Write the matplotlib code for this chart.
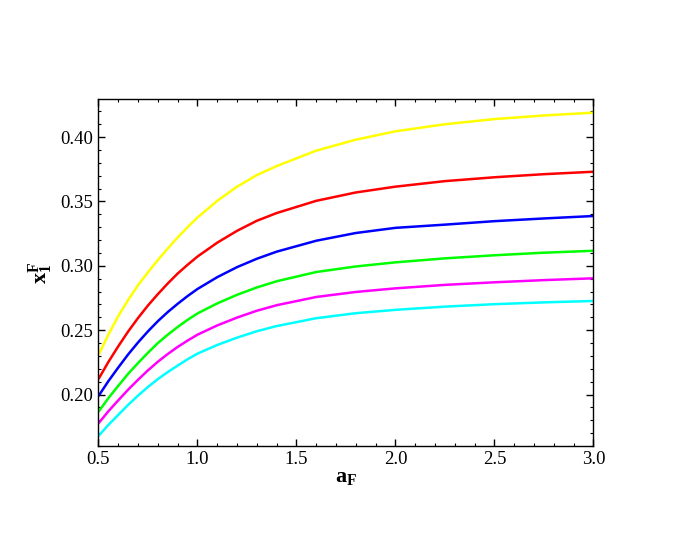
import matplotlib
matplotlib.use("Agg")
import matplotlib.pyplot as plt
from matplotlib.ticker import MultipleLocator, FormatStrFormatter

# values
a_F = [0.5, 0.55, 0.6, 0.65, 0.7, 0.75, 0.8, 0.85, 0.9, 0.95, 1.0, 1.1, 1.2, 1.3,
       1.4, 1.6, 1.8, 2.0, 2.25, 2.5, 2.75, 3.0]

x_yellow = [0.2307, 0.2465, 0.261, 0.2735, 0.285, 0.295, 0.3045, 0.3135, 0.322, 0.330,
            0.3375, 0.3505, 0.3615, 0.3705, 0.3775, 0.3895, 0.398, 0.4045, 0.410,
            0.414, 0.4168, 0.419]
x_red = [0.212, 0.2253, 0.2375, 0.249, 0.2595, 0.2692, 0.278, 0.2863, 0.294, 0.3008,
         0.3072, 0.318, 0.3272, 0.335, 0.341, 0.3505, 0.357, 0.3615, 0.3658, 0.3688,
         0.3712, 0.3731]
x_blue = [0.1988, 0.2104, 0.221, 0.2312, 0.2405, 0.2491, 0.257, 0.2641, 0.2705, 0.2765,
          0.282, 0.2912, 0.299, 0.3055, 0.311, 0.3195, 0.3255, 0.3295, 0.332, 0.3347,
          0.3368, 0.3387]
x_green = [0.1866, 0.1972, 0.2068, 0.2161, 0.2245, 0.2325, 0.240, 0.2465, 0.2525, 0.258,
           0.263, 0.2708, 0.2775, 0.2832, 0.288, 0.2952, 0.2995, 0.3027, 0.3058, 0.3082,
           0.3102, 0.3117]
x_magenta = [0.1776, 0.187, 0.1955, 0.2038, 0.2115, 0.2188, 0.2255, 0.2315, 0.237, 0.2419,
             0.2465, 0.2537, 0.2598, 0.2651, 0.2694, 0.2758, 0.2797, 0.2825, 0.2852,
             0.2872, 0.2889, 0.2903]
x_cyan = [0.1678, 0.1764, 0.1842, 0.192, 0.1992, 0.2059, 0.212, 0.2175, 0.2225, 0.2274,
          0.2318, 0.2385, 0.2442, 0.2492, 0.2532, 0.2593, 0.2632, 0.2658, 0.2683, 0.2702,
          0.2716, 0.2727]

series = [
    (x_yellow, '#ffff00'),
    (x_red, '#ff0000'),
    (x_blue, '#0000ff'),
    (x_green, '#00ff00'),
    (x_magenta, '#ff00ff'),
    (x_cyan, '#00ffff'),
]

plt.rcParams['font.family'] = ['Liberation Serif', 'DejaVu Serif']
plt.rcParams['mathtext.fontset'] = 'custom'
plt.rcParams['mathtext.rm'] = 'Liberation Serif'
plt.rcParams['mathtext.bf'] = 'Liberation Serif:bold'
plt.rcParams['mathtext.it'] = 'Liberation Serif:italic'

fig = plt.figure(figsize=(6.92, 5.44), dpi=100)
ax = fig.add_axes([0.1423, 0.1801, 0.7153, 0.6379])

for vals, col in series:
    ax.plot(a_F, vals, color=col, lw=1.8, solid_joinstyle='round',
            solid_capstyle='butt')

ax.set_xlim(0.5, 3.0)
ax.set_ylim(0.160, 0.4296)

ax.xaxis.set_major_locator(MultipleLocator(0.5))
ax.xaxis.set_minor_locator(MultipleLocator(0.1))
ax.yaxis.set_major_locator(MultipleLocator(0.05))
ax.yaxis.set_minor_locator(MultipleLocator(0.01))
ax.xaxis.set_major_formatter(FormatStrFormatter('%.1f'))
ax.yaxis.set_major_formatter(FormatStrFormatter('%.2f'))

ax.tick_params(which='both', direction='in', top=True, right=True, labelsize=13.5)
ax.tick_params(which='major', length=5, width=1)
ax.tick_params(which='minor', length=2.5, width=0.8)
for sp in ax.spines.values():
    sp.set_linewidth(1.0)

ax.set_xlabel(r'$\mathbf{a}_{\mathbf{F}}$', fontsize=16, labelpad=0)
ax.set_ylabel(r'$\mathbf{x}_{\mathbf{1}}^{\mathbf{F}}$', fontsize=16, labelpad=4)

fig.savefig('out.png', dpi=100)
